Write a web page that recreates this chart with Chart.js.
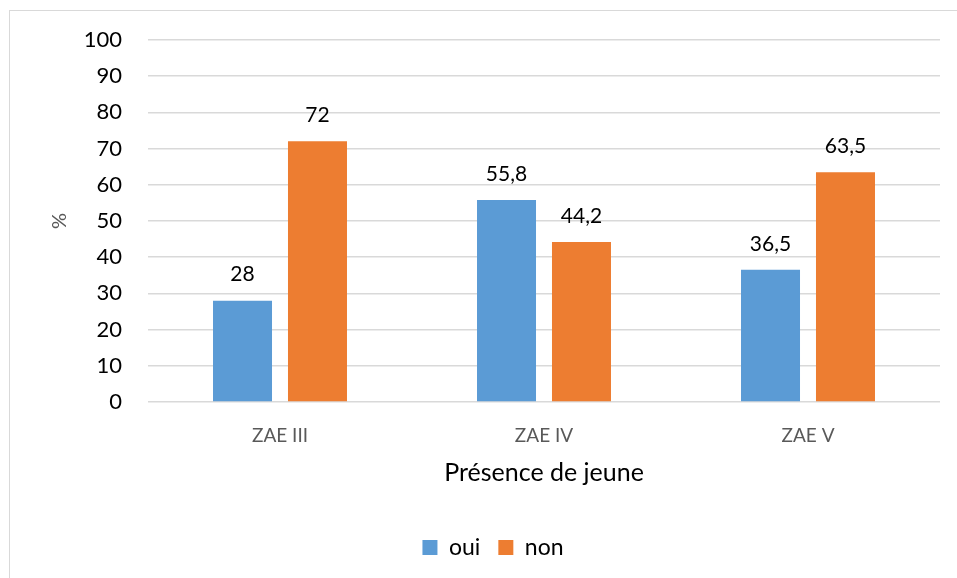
<!DOCTYPE html>
<html>
<head>
<meta charset="utf-8">
<script src="https://cdn.jsdelivr.net/npm/chart.js@4"></script>
<style>
  html, body { margin: 0; padding: 0; background: #fff; }
  #wrap { width: 957px; height: 578px; position: relative; }
</style>
</head>
<body>
<div id="wrap"><canvas id="chart" width="957" height="578"></canvas></div>
<script>
const zones = ["ZAE III", "ZAE IV", "ZAE V"];
const oui = [28, 55.8, 36.5];
const non = [72, 44.2, 63.5];
const yTicks = [0, 10, 20, 30, 40, 50, 60, 70, 80, 90, 100];

const FONT = "Lato, 'Open Sans', sans-serif";

// frame around the chart, like the office export
const framePlugin = {
  id: "frame",
  beforeDraw(chart) {
    const c = chart.ctx;
    c.save();
    c.strokeStyle = "#d9d9d9";
    c.lineWidth = 1;
    c.strokeRect(9.5, 10.5, 960, 600);
    c.restore();
  },
  // original legend sits a bit right of the plot centre
  afterLayout(chart) {
    if (chart.legend) {
      chart.legend.left += 18;
      chart.legend.right += 18;
    }
  }
};

// value labels above bars (comma decimals)
const valueLabels = {
  id: "valueLabels",
  afterDatasetsDraw(chart) {
    const c = chart.ctx;
    c.save();
    c.font = "21px " + FONT;
    c.fillStyle = "#000";
    c.textAlign = "center";
    c.textBaseline = "middle";
    chart.data.datasets.forEach((ds, i) => {
      chart.getDatasetMeta(i).data.forEach((bar, j) => {
        const txt = String(ds.data[j]).replace(".", ",");
        c.fillText(txt, bar.x, bar.y - 26);
      });
    });
    c.restore();
  }
};

new Chart(document.getElementById("chart"), {
  type: "bar",
  data: {
    labels: zones,
    datasets: [
      { label: "oui", data: oui, backgroundColor: "#5b9bd5" },
      { label: "non", data: non, backgroundColor: "#ed7d31" }
    ]
  },
  options: {
    responsive: false,
    animation: false,
    layout: { padding: { top: 40, right: 17, bottom: 9, left: 10 } },
    datasets: {
      bar: { categoryPercentage: 0.568, barPercentage: 0.787 }
    },
    plugins: {
      legend: {
        position: "bottom",
        labels: {
          boxWidth: 15,
          boxHeight: 15,
          padding: 18,
          color: "#000",
          font: { family: FONT, size: 23 }
        }
      },
      tooltip: { enabled: false }
    },
    scales: {
      x: {
        grid: { display: false },
        border: { display: false },
        ticks: { color: "#595959", padding: 14, font: { family: FONT, size: 19 } },
        title: {
          display: true,
          text: "Présence de jeune",
          color: "#000",
          padding: { top: 0, bottom: 30 },
          font: { family: FONT, size: 25 }
        },
        afterFit(scale) { scale.height = 116; }
      },
      y: {
        min: 0,
        max: 100,
        afterBuildTicks(scale) { scale.ticks = yTicks.map(v => ({ value: v })); },
        grid: { color: "#d9d9d9", lineWidth: 1.5, drawTicks: false },
        border: { display: false },
        ticks: { color: "#000", padding: 26, font: { family: FONT, size: 22 } },
        title: {
          display: true,
          text: "%",
          color: "#595959",
          padding: { top: 38, bottom: 0 },
          font: { family: FONT, size: 20 }
        },
        afterFit(scale) { scale.width = 138; }
      }
    }
  },
  plugins: [framePlugin, valueLabels]
});
</script>
</body>
</html>
